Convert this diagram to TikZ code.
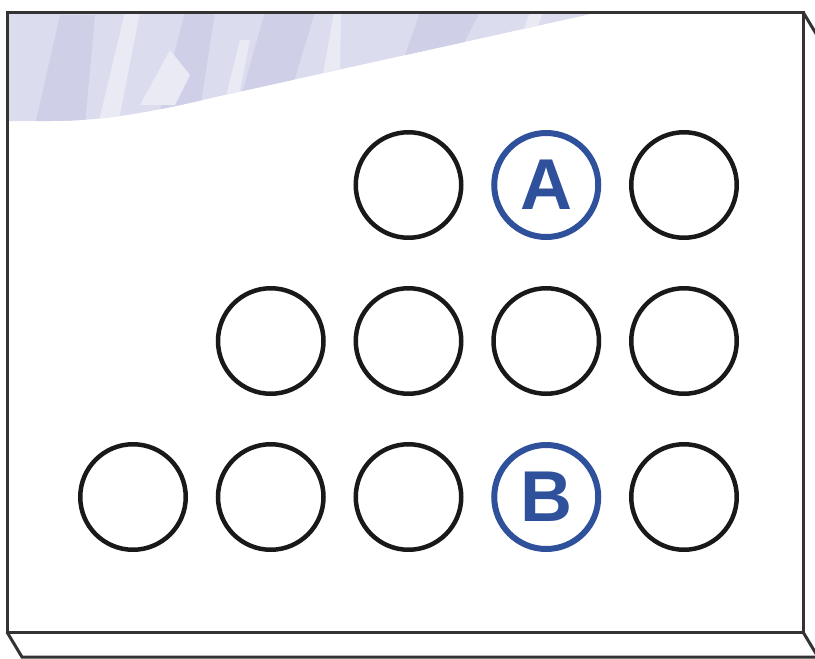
\documentclass[tikz,border=0pt]{standalone}
\usepackage{fontspec}
\newfontfamily\labelfont{Liberation Sans}
\definecolor{boxgray}{HTML}{333333}
\definecolor{markblue}{HTML}{2F519B}
\definecolor{lavbase}{HTML}{DCDCEF}
\definecolor{lavdark}{HTML}{CFCFE8}
\definecolor{lavlight}{HTML}{EAEAF5}

\begin{document}
\begin{tikzpicture}[
      x=1pt, y=-1pt,
      edge/.style={draw=boxgray, line width=3pt, line join=miter},
      well/.style={circle, draw=black!90, line width=4.5pt, minimum size=105.5pt, inner sep=0pt},
      target/.style={well, draw=markblue, line width=6pt, minimum size=104pt, text=markblue,
        font=\labelfont\bfseries\fontsize{72}{72}\selectfont}
    ]
      \useasboundingbox (0,0) rectangle (815,659);
      \begin{scope}
        \clip (0,0) rectangle (815,659);
        % sides of the block
        \draw[edge] (803,12) -- (818,37) -- (818,657) -- (22,657) -- (7,632);
        \draw[edge] (803,632) -- (818,657);
        % textured band at the top
        \begin{scope}
          \clip (7,12) -- (600,12) -- (220,96) .. controls (160,110) and (110,121) .. (50,121) -- (7,121) -- cycle;
          \fill[lavbase] (0,0) rectangle (610,130);
          \fill[lavdark] (35,125) -- (60,15) -- (95,15) -- (85,125) -- cycle;
          \fill[lavdark] (160,110) -- (185,12) -- (215,12) -- (200,110) -- cycle;
          \fill[lavdark] (240,100) -- (265,12) -- (315,12) -- (290,95) -- cycle;
          \fill[lavdark] (400,70) -- (420,12) -- (480,12) -- (455,60) -- cycle;
          \fill[lavlight] (98,125) -- (125,12) -- (140,12) -- (118,125) -- cycle;
          \fill[lavlight] (140,105) -- (170,50) -- (190,75) -- (175,105) -- cycle;
          \fill[lavlight] (225,100) -- (240,40) -- (250,40) -- (238,100) -- cycle;
          \fill[lavlight] (322,80) -- (334,12) -- (341,12) -- (340,75) -- cycle;
          \fill[lavlight] (520,40) -- (530,12) -- (543,12) -- (535,35) -- cycle;
        \end{scope}
        % front face
        \draw[edge] (7,12) rectangle (803,632);
      \end{scope}

      % wells
      \foreach \r/\c in {1/3,1/5,2/2,2/3,2/4,2/5,3/1,3/2,3/3,3/5}
        \node[well] (w\r\c) at ({133+137.75*(\c-1)}, {185+156*(\r-1)}) {};
      \node[target] (wellA) at (546.25,185) {A};
      \node[target] (wellB) at (546.25,497) {B};
    \end{tikzpicture}
\end{document}
